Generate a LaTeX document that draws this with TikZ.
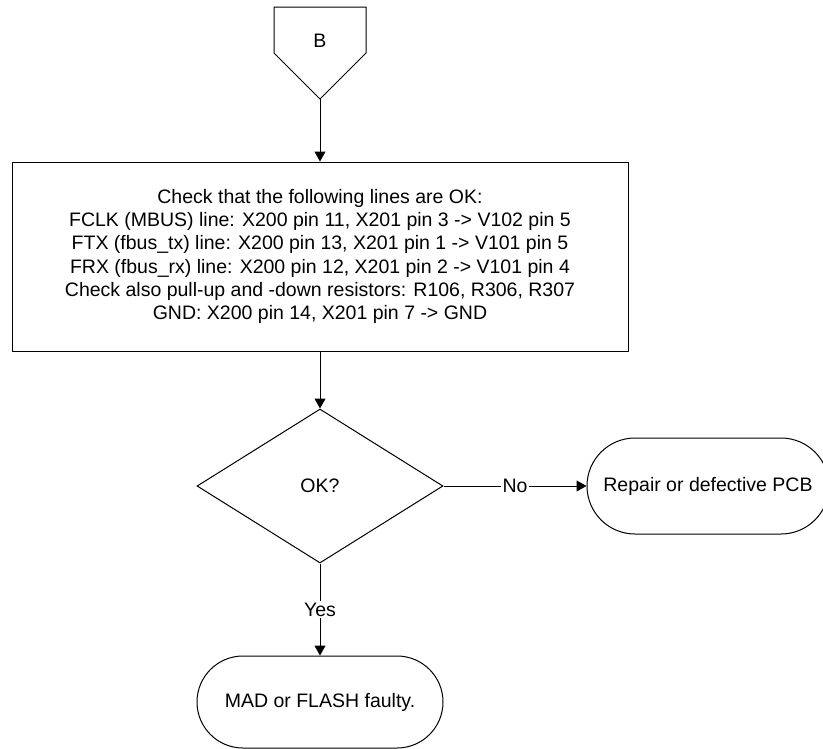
\documentclass[tikz,border=0pt]{standalone}
\usepackage{fontspec}
\setmainfont{Liberation Sans}
\usetikzlibrary{shapes.geometric,shapes.misc,arrows.meta}
\begin{document}
\begin{tikzpicture}[x=1pt,y=-1pt,
  every node/.style={font=\fontsize{19.5}{23.3}\selectfont, text=black},
  line/.style={draw=black, line width=1pt},
  flow/.style={line, -{Triangle[length=10pt,width=11pt]}},
  box/.style={line, rectangle, align=center, inner sep=0pt},
  decision/.style={line, diamond, inner sep=0pt},
  terminal/.style={line, rounded rectangle, inner sep=0pt},
  lbl/.style={fill=white, inner sep=1.5pt}]
\useasboundingbox (0,0) rectangle (823,748);
\fill[white] (0,0) rectangle (823,748);
\begin{scope}
\clip (0,0) rectangle (823,748);

% off-page reference B
\draw[line, line join=miter] (274,7) -- (366,7) -- (366,53) -- (320,99) -- (274,53) -- cycle;
\coordinate (offtip) at (320,99);
\node (offpage) at (320,41) {B};

% check box
\node[box, minimum width=616, minimum height=189] (check) at (320,256.5)
  {Check that the following lines are OK:\\
   FCLK (MBUS) line: X200 pin 11, X201 pin 3 -> V102 pin 5\\
   FTX (fbus\_tx) line: X200 pin 13, X201 pin 1 -> V101 pin 5\\
   FRX (fbus\_rx) line: X200 pin 12, X201 pin 2 -> V101 pin 4\\
   Check also pull-up and -down resistors: R106, R306, R307\\
   GND: X200 pin 14, X201 pin 7 -> GND};

% decision
\node[decision, minimum width=246, minimum height=154] (ok) at (320,486) {OK?};

% terminators
\node[terminal, minimum width=242, minimum height=96] (repair) at (708,486) {Repair or defective PCB};
\node[terminal, minimum width=246, minimum height=92] (faulty) at (320,702) {MAD or FLASH faulty.};

% connectors
\draw[flow] (offtip) -- (check);
\draw[flow] (check) -- (ok);
\draw[flow] (ok.east) -- node[lbl] {No} (repair.west);
\draw[flow] (ok.south) -- node[lbl] {Yes} (faulty.north);
\end{scope}
\end{tikzpicture}
\end{document}
